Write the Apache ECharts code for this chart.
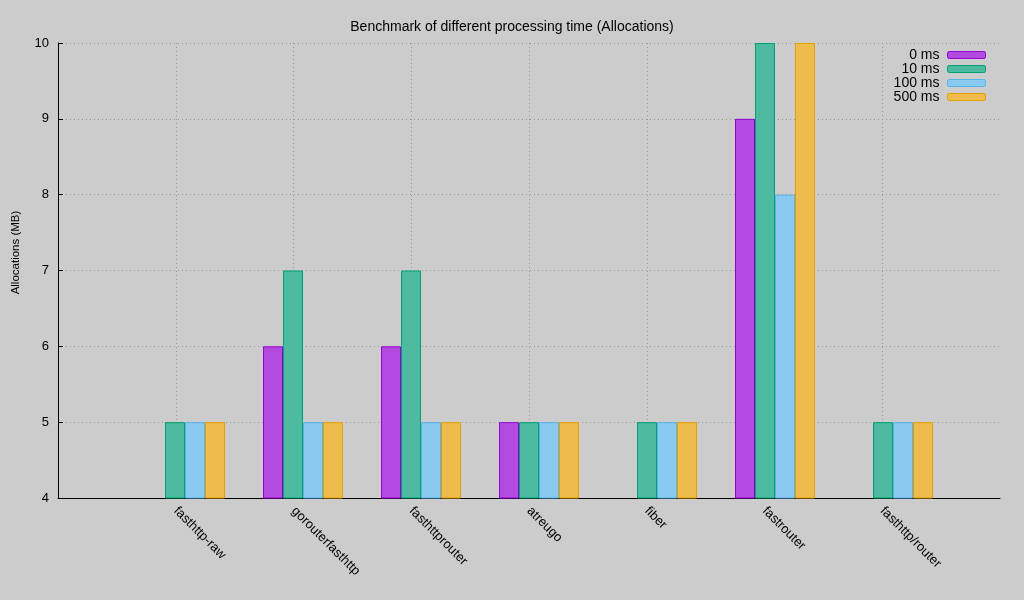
<!DOCTYPE html>
<html>
<head>
<meta charset="utf-8">
<title>Benchmark of different processing time (Allocations)</title>
<script src="https://cdn.jsdelivr.net/npm/echarts@6/dist/echarts.min.js"></script>
<style>
  html, body { margin: 0; padding: 0; background: #cccccc; }
  #chart { width: 1024px; height: 600px; }
</style>
</head>
<body>
<div id="chart"></div>
<script>
var categories = ['fasthttp-raw', 'gorouterfasthttp', 'fasthttprouter', 'atreugo', 'fiber', 'fastrouter', 'fasthttp/router'];
var alloc0ms = [4, 6, 6, 5, 4, 9, 4];
var alloc10ms = [5, 7, 7, 5, 5, 10, 5];
var alloc100ms = [5, 5, 5, 5, 5, 8, 5];
var alloc500ms = [5, 5, 5, 5, 5, 10, 5];
var seriesNames = ['0 ms', '10 ms', '100 ms', '500 ms'];

var fills = ['#b44be1', '#4dbb9f', '#8ac9f0', '#eebb4d'];
var edges = ['#9400d3', '#009e73', '#56b4e9', '#e69f00'];
var font = 'Liberation Sans, Arial, Helvetica, sans-serif';

var chart = echarts.init(document.getElementById('chart'));

function bar(i, data) {
  return {
    name: seriesNames[i],
    type: 'bar',
    xAxisIndex: 0,
    yAxisIndex: 0,
    data: data,
    barWidth: 20,
    barGap: '0%',
    itemStyle: { color: fills[i], borderColor: edges[i], borderWidth: 1 }
  };
}

var dotted = { show: true, lineStyle: { color: '#999999', width: 1, type: [1, 3] } };

var option = {
  backgroundColor: '#cccccc',
  animation: false,
  textStyle: { fontFamily: font, color: '#000' },
  title: {
    text: 'Benchmark of different processing time (Allocations)',
    left: 'center',
    top: 15,
    textStyle: { fontSize: 14, fontWeight: 'normal', color: '#000', fontFamily: font }
  },
  legend: {
    orient: 'vertical',
    right: 33,
    top: 43,
    align: 'right',
    itemWidth: 38,
    itemHeight: 7,
    itemGap: 0,
    selectedMode: false,
    itemStyle: { borderWidth: 1 },
    textStyle: { fontSize: 14, lineHeight: 14, color: '#000', fontFamily: font, padding: [0, 3, 0, 0] },
    data: seriesNames
  },
  grid: [
    { left: 126, right: 72, top: 43, bottom: 102 },
    { left: 58, right: 24, top: 43, bottom: 102 }
  ],
  xAxis: [
    { gridIndex: 0, type: 'category', data: categories, show: false },
    {
      gridIndex: 1,
      type: 'value',
      min: -1,
      max: 7,
      interval: 1,
      axisLine: { show: true, onZero: false, lineStyle: { color: '#000', width: 1 } },
      axisTick: { show: false },
      splitLine: Object.assign({ showMinLine: false, showMaxLine: false }, dotted),
      axisLabel: {
        rotate: -45,
        margin: 11,
        fontSize: 13,
        color: '#000',
        fontFamily: font,
        formatter: function (v) { return categories[v] || ''; }
      }
    }
  ],
  yAxis: [
    { gridIndex: 0, type: 'value', min: 4, max: 10, show: false },
    {
      gridIndex: 1,
      type: 'value',
      min: 4,
      max: 10,
      interval: 1,
      name: 'Allocations (MB)',
      nameLocation: 'middle',
      nameGap: 36,
      nameTextStyle: { fontSize: 11.5, color: '#000', fontFamily: font, padding: [0, 0, 0, 36] },
      axisLine: { show: true, onZero: false, lineStyle: { color: '#000', width: 1 } },
      axisTick: { show: true, inside: true, length: 5, lineStyle: { color: '#000' } },
      splitLine: Object.assign({ showMinLine: false }, dotted),
      axisLabel: { margin: 9, fontSize: 13, color: '#000', fontFamily: font }
    }
  ],
  series: [
    bar(0, alloc0ms),
    bar(1, alloc10ms),
    bar(2, alloc100ms),
    bar(3, alloc500ms)
  ]
};

chart.setOption(option);
</script>
</body>
</html>
